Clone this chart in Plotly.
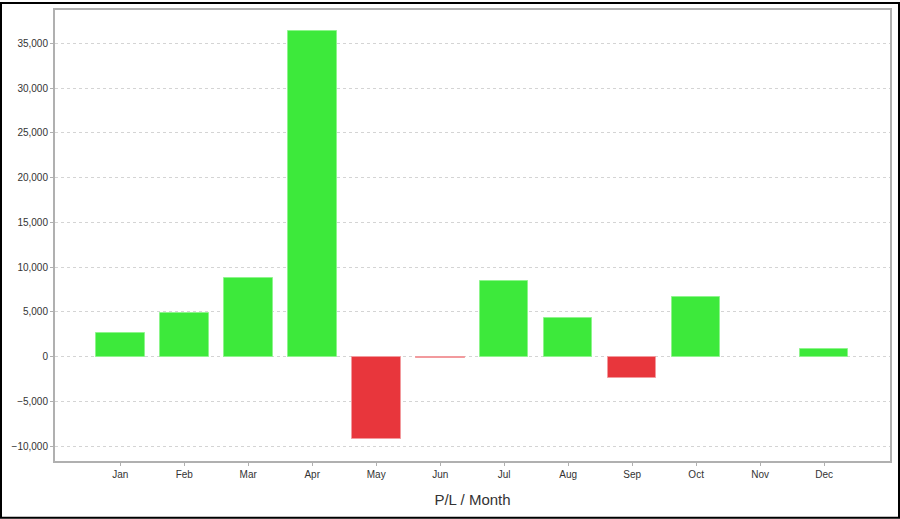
import plotly.graph_objects as go

months = ["Jan", "Feb", "Mar", "Apr", "May", "Jun",
          "Jul", "Aug", "Sep", "Oct", "Nov", "Dec"]
pnl = [2670, 4890, 8820, 36400, -9250, -150,
       8490, 4270, -2440, 6670, 0, 890]
y_ticks = [-10000, -5000, 0, 5000, 10000, 15000, 20000, 25000, 30000, 35000]

GREEN = "#3de93b"
RED = "#e8363c"
colors = [GREEN if v >= 0 else RED for v in pnl]
edges = ["#8ef58c" if v >= 0 else "#f29a9d" for v in pnl]
edge_w = [1 if v != 0 else 0 for v in pnl]

W, H = 900, 519
ml, mr, mt, mb = 55, 10, 8, 58

fig = go.Figure(go.Bar(
    x=list(range(len(months))), y=pnl,
    marker=dict(color=colors, line=dict(color=edges, width=edge_w)),
    width=0.76,
))

fig.update_layout(
    width=W, height=H,
    margin=dict(l=ml, r=mr, t=mt, b=mb),
    paper_bgcolor="white", plot_bgcolor="white",
    font=dict(family="Liberation Sans, Arial, sans-serif", size=10, color="#333"),
    showlegend=False,
    bargap=0,
)

fig.update_xaxes(
    range=[-1.02, 12.03],
    tickmode="array", tickvals=list(range(len(months))), ticktext=months,
    showgrid=False, zeroline=False,
    showline=True, linecolor="#b0b0b0", linewidth=2, mirror=True,
    ticks="outside", ticklen=3, tickcolor="#b0b0b0",
    tickfont=dict(size=10, color="#333"),
    title=dict(text="P/L / Month", font=dict(size=15, color="#333"), standoff=15),
)
fig.update_yaxes(
    range=[-11667, 38744],
    tickmode="array", tickvals=y_ticks,
    tickformat=",d",
    showgrid=True, gridcolor="#d4d4d4", griddash="3px,3px", gridwidth=1,
    zeroline=False,
    showline=True, linecolor="#b0b0b0", linewidth=2, mirror=True,
    ticks="outside", ticklen=3, tickcolor="#b0b0b0",
    tickfont=dict(size=10, color="#333"),
)

# black border round the whole picture
pw = W - ml - mr
ph = H - mt - mb
fig.add_shape(
    type="rect", xref="paper", yref="paper",
    x0=-(ml - 1) / pw, x1=1 + (mr - 1) / pw,
    y0=-(mb - 1) / ph, y1=1 + (mt - 1) / ph,
    line=dict(color="black", width=2), layer="above",
)

fig.write_html("out.html", config={"displayModeBar": False},
               post_script="document.body.style.margin='0';")
